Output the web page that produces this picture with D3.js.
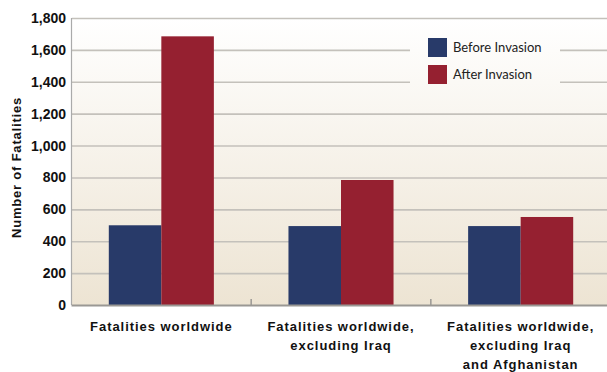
<!DOCTYPE html>
<html>
<head>
<meta charset="utf-8">
<script src="https://cdn.jsdelivr.net/npm/d3@7"></script>
<style>
  html, body { margin: 0; padding: 0; background: #fff; }
  svg { display: block; }
</style>
</head>
<body>
<svg id="chart" width="607" height="372"></svg>
<script>
// Categories (multi-line labels) and series values
const categories = [
  ["Fatalities worldwide"],
  ["Fatalities worldwide,", "excluding Iraq"],
  ["Fatalities worldwide,", "excluding Iraq", "and Afghanistan"]
];
const seriesNames = ["Before Invasion", "After Invasion"];
const beforeValues = [500, 495, 495];
const afterValues = [1685, 784, 552];
const yTicks = [0, 200, 400, 600, 800, 1000, 1200, 1400, 1600, 1800];

const colors = ["#283a69", "#952030"];

const svg = d3.select("#chart");
const margin = { left: 71.5, top: 18, right: -3.5, bottom: 67 };
const W = 607, H = 372;
const x0 = margin.left, x1 = W - margin.right;
const y0 = H - margin.bottom, y1 = margin.top;

const x = d3.scaleBand().domain(d3.range(categories.length)).range([x0, x1]).paddingInner(0).paddingOuter(0);
const xs = d3.scaleBand().domain(d3.range(seriesNames.length)).range([0, x.bandwidth()]).paddingInner(0).paddingOuter(0.71);
const y = d3.scaleLinear().domain([0, 1800]).range([y0, y1]);

// Background gradient of the plot area
const defs = svg.append("defs");
const grad = defs.append("linearGradient").attr("id", "bg")
  .attr("gradientUnits", "userSpaceOnUse")
  .attr("x1", 0).attr("y1", y1).attr("x2", 0).attr("y2", y0);
grad.append("stop").attr("offset", "0%").attr("stop-color", "#ffffff");
grad.append("stop").attr("offset", "100%").attr("stop-color", "#ede4d3");

const clip = defs.append("clipPath").attr("id", "plotclip");
clip.append("rect").attr("x", x0).attr("y", 0).attr("width", W - x0).attr("height", H);

svg.append("rect").attr("x", x0).attr("y", y1).attr("width", x1 - x0).attr("height", y0 - y1).attr("fill", "url(#bg)");

// Gridlines
const g = svg.append("g").attr("clip-path", "url(#plotclip)");
g.selectAll("line.grid").data(yTicks.filter(d => d > 0)).join("line")
  .attr("class", "grid")
  .attr("x1", x0).attr("x2", W)
  .attr("y1", d => y(d) + 0.5).attr("y2", d => y(d) + 0.5)
  .attr("stroke", "#c4c1bb").attr("stroke-width", 1.6);

// Legend panel (covers gridlines)
const legX = 410, legY = 30;
svg.append("rect").attr("x", legX).attr("y", legY).attr("width", 150).attr("height", 62).attr("fill", "url(#bg)");
const leg = svg.append("g");
seriesNames.forEach((name, i) => {
  const ly = 38 + i * 27;
  leg.append("rect").attr("x", 428).attr("y", ly).attr("width", 19).attr("height", 19).attr("fill", colors[i]);
  leg.append("text").attr("x", 453).attr("y", ly + 14)
    .attr("font-family", "Lato, 'Open Sans', sans-serif").attr("font-size", 13)
    .attr("fill", "#222").text(name);
});

// Bars
const groups = svg.append("g").selectAll("g").data(categories.map((c, i) => i)).join("g")
  .attr("transform", i => `translate(${x(i)},0)`);
groups.selectAll("rect")
  .data(i => [beforeValues[i], afterValues[i]])
  .join("rect")
  .attr("x", (d, j) => xs(j))
  .attr("width", xs.bandwidth())
  .attr("y", d => y(d))
  .attr("height", d => y(0) - y(d))
  .attr("fill", (d, j) => colors[j]);

// Axes lines
svg.append("line").attr("x1", x0).attr("x2", x0).attr("y1", y1).attr("y2", y0)
  .attr("stroke", "#aaa").attr("stroke-width", 1.2);
svg.append("line").attr("x1", x0).attr("x2", W).attr("y1", y0 + 0.5).attr("y2", y0 + 0.5)
  .attr("stroke", "#9a9894").attr("stroke-width", 2);
// Category separator ticks
svg.append("g").selectAll("line").data(d3.range(1, categories.length)).join("line")
  .attr("x1", i => x(i)).attr("x2", i => x(i))
  .attr("y1", y0 - 6).attr("y2", y0)
  .attr("stroke", "#9a9894").attr("stroke-width", 1.5);

// Y tick labels
const yAxis = d3.axisLeft(y).tickValues(yTicks).tickSize(0).tickPadding(5).tickFormat(d3.format(","));
const ya = svg.append("g").attr("transform", `translate(${x0 - 0.5},0)`).call(yAxis);
ya.select(".domain").remove();
ya.selectAll("text").attr("font-family", "'Liberation Sans', Arial, sans-serif")
  .attr("font-weight", "bold").attr("font-size", 14).attr("fill", "#111");

// Y axis title
svg.append("text")
  .attr("transform", `translate(21,${(y0 + y1) / 2 + 6}) rotate(-90)`)
  .attr("text-anchor", "middle")
  .attr("font-family", "'Liberation Sans', Arial, sans-serif").attr("font-weight", "bold")
  .attr("font-size", 13).attr("letter-spacing", 0.8).attr("fill", "#111")
  .text("Number of Fatalities");

// X category labels
const xl = svg.append("g").selectAll("text").data(categories).join("text")
  .attr("text-anchor", "middle")
  .attr("font-family", "'Liberation Sans', Arial, sans-serif").attr("font-weight", "bold")
  .attr("font-size", 13).attr("letter-spacing", 0.95).attr("fill", "#111");
xl.each(function (lines, i) {
  const t = d3.select(this);
  lines.forEach((ln, k) => {
    t.append("tspan").attr("x", x(i) + x.bandwidth() / 2).attr("y", 331 + k * 19).text(ln);
  });
});
</script>
</body>
</html>
